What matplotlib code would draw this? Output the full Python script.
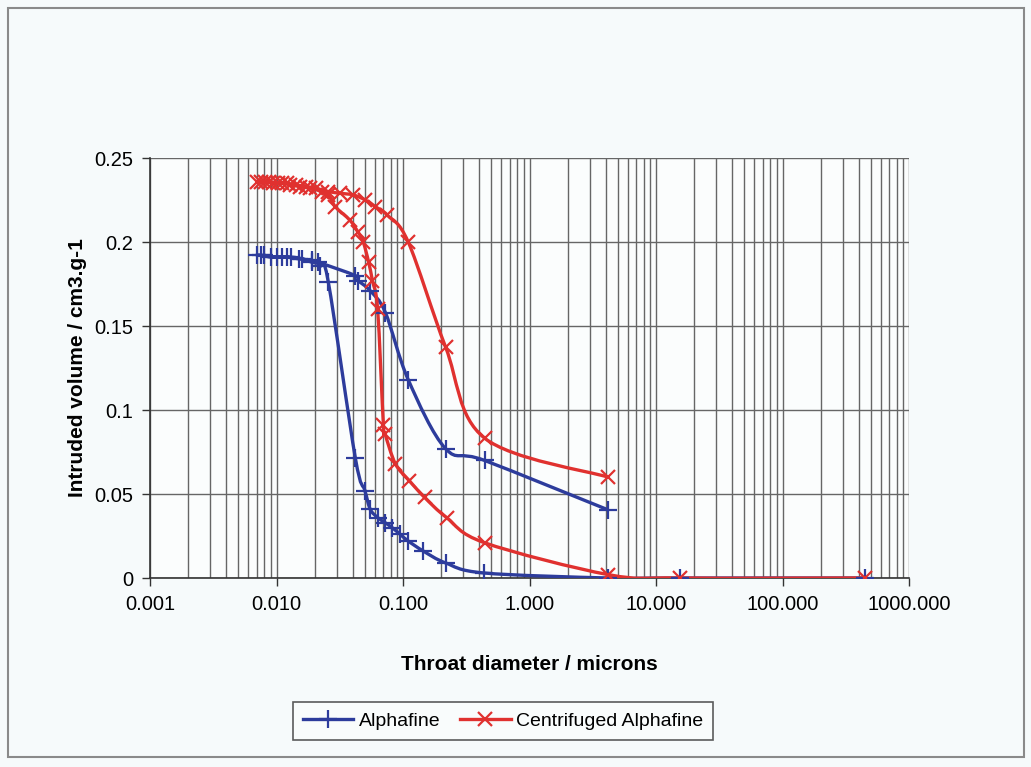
import matplotlib
matplotlib.use("Agg")
import matplotlib.pyplot as plt
from matplotlib.path import Path
from matplotlib.patches import PathPatch, Rectangle
from matplotlib.lines import Line2D
from matplotlib.ticker import FixedLocator, LogLocator, NullFormatter
import numpy as np

plt.rcParams['font.family'] = ['Liberation Sans', 'DejaVu Sans']

# Alphafine: intrusion (large -> small diameter) then extrusion (small -> large)
alpha_d = [450, 15.5, 4.2, 0.435, 0.217, 0.145, 0.11, 0.095, 0.082, 0.072,
           0.063, 0.055, 0.050, 0.042, 0.0257, 0.0222, 0.019, 0.016, 0.013,
           0.011, 0.009, 0.0075, 0.007,
           0.008, 0.010, 0.012, 0.015, 0.019, 0.0213, 0.042, 0.0443, 0.055,
           0.0726, 0.11, 0.217, 0.441, 4.2]
alpha_v = [0.0, 0.0, 0.0, 0.003, 0.009, 0.016, 0.022, 0.026, 0.030, 0.033,
           0.036, 0.041, 0.052, 0.0714, 0.176, 0.186, 0.188, 0.190, 0.191,
           0.191, 0.191, 0.192, 0.192,
           0.192, 0.191, 0.191, 0.190, 0.189, 0.188, 0.180, 0.177, 0.171,
           0.158, 0.118, 0.077, 0.070, 0.0405]

# Centrifuged Alphafine
cent_d = [450, 15.5, 4.2, 0.441, 0.221, 0.148, 0.112, 0.087, 0.072, 0.070,
          0.063, 0.0573, 0.0535, 0.0485, 0.044, 0.038, 0.0292, 0.0257,
          0.0229, 0.0185, 0.0154, 0.0128, 0.011, 0.0094, 0.0081, 0.007,
          0.0075, 0.0088, 0.0102, 0.012, 0.0142, 0.017, 0.0205, 0.0257,
          0.032, 0.0405, 0.0504, 0.0605, 0.0752, 0.110, 0.217, 0.441, 4.2]
cent_v = [0.0, 0.0, 0.002, 0.021, 0.036, 0.048, 0.058, 0.068, 0.086, 0.091,
          0.160, 0.177, 0.188, 0.200, 0.206, 0.213, 0.221, 0.228,
          0.230, 0.232, 0.233, 0.234, 0.235, 0.235, 0.236, 0.236,
          0.236, 0.236, 0.235, 0.235, 0.234, 0.233, 0.232, 0.230,
          0.229, 0.228, 0.225, 0.221, 0.216, 0.200, 0.1375, 0.0833, 0.060]

x_ticks = [0.001, 0.01, 0.1, 1, 10, 100, 1000]
x_labels = ['0.001', '0.010', '0.100', '1.000', '10.000', '100.000', '1000.000']
y_ticks = [0, 0.05, 0.1, 0.15, 0.2, 0.25]
y_labels = ['0', '0.05', '0.1', '0.15', '0.2', '0.25']

blue = '#2d3c9c'
red = '#e0312f'


def smooth_path(xd, yd):
    # excel-style smoothed line, built in log-x space
    lx = np.log10(np.asarray(xd, float))
    y = np.asarray(yd, float)
    n = len(lx)
    verts = [(lx[0], y[0])]
    codes = [Path.MOVETO]
    for i in range(n - 1):
        p0 = (lx[max(i - 1, 0)], y[max(i - 1, 0)])
        p1 = (lx[i], y[i])
        p2 = (lx[i + 1], y[i + 1])
        p3 = (lx[min(i + 2, n - 1)], y[min(i + 2, n - 1)])
        c1 = (p1[0] + (p2[0] - p0[0]) / 6, p1[1] + (p2[1] - p0[1]) / 6)
        c2 = (p2[0] - (p3[0] - p1[0]) / 6, p2[1] - (p3[1] - p1[1]) / 6)
        verts += [c1, c2, p2]
        codes += [Path.CURVE4] * 3
    verts = [(10 ** a, b) for a, b in verts]
    return Path(verts, codes)


fig = plt.figure(figsize=(10.31, 7.67), dpi=100, facecolor='#f6fafb')
fig.patches.append(Rectangle((8 / 1031, 10 / 767), 1016 / 1031, 749 / 767,
                             transform=fig.transFigure, fill=False,
                             edgecolor='#8a8a8a', linewidth=1.5))
ax = fig.add_axes([150 / 1031, 1 - 578 / 767, 759 / 1031, 420 / 767])
ax.set_facecolor('#fbfdfd')
ax.set_xscale('log')
ax.set_xlim(0.001, 1000)
ax.set_ylim(0, 0.25)

ax.xaxis.set_major_locator(FixedLocator(x_ticks))
ax.set_xticklabels(x_labels)
ax.xaxis.set_minor_locator(LogLocator(base=10, subs=np.arange(2, 10), numticks=20))
ax.xaxis.set_minor_formatter(NullFormatter())
ax.set_yticks(y_ticks)
ax.set_yticklabels(y_labels)
ax.grid(True, which='both', axis='x', color='#666666', linewidth=1.0)
ax.grid(True, which='major', axis='y', color='#666666', linewidth=1.0)
ax.tick_params(which='minor', length=0)
ax.tick_params(which='major', length=6, width=1, color='#333333',
               labelsize=14.5, pad=6)
for s in ['top', 'right']:
    ax.spines[s].set_visible(False)
for s in ['left', 'bottom']:
    ax.spines[s].set_color('#333333')
    ax.spines[s].set_linewidth(1.2)

for xd, yd, col, mk, ms in [(alpha_d, alpha_v, blue, '+', 13),
                            (cent_d, cent_v, red, 'x', 10)]:
    ax.add_patch(PathPatch(smooth_path(xd, yd), facecolor='none',
                           edgecolor=col, linewidth=2.4, zorder=3))
    ax.plot(xd, yd, linestyle='none', marker=mk, markersize=ms,
            markeredgewidth=1.6, color=col, zorder=4)

ax.set_xlabel('Throat diameter / microns', fontsize=15, fontweight='bold',
              labelpad=30)
ax.set_ylabel('Intruded volume / cm3.g-1', fontsize=15, fontweight='bold',
              labelpad=5)

handles = [Line2D([], [], color=blue, lw=2.4, marker='+', markersize=13,
                  markeredgewidth=1.6),
           Line2D([], [], color=red, lw=2.4, marker='x', markersize=10,
                  markeredgewidth=1.6)]
leg = fig.legend(handles, ['Alphafine', 'Centrifuged Alphafine'], ncol=2,
                 loc='center', bbox_to_anchor=(503 / 1031, 1 - 721 / 767),
                 fontsize=14, frameon=True, fancybox=False,
                 edgecolor='#333333', facecolor='#fbfdfd', handlelength=2.6,
                 handletextpad=0.3, columnspacing=1.0, borderpad=0.5)
leg.get_frame().set_linewidth(1.2)

fig.savefig('out.png', dpi=100, facecolor=fig.get_facecolor())
